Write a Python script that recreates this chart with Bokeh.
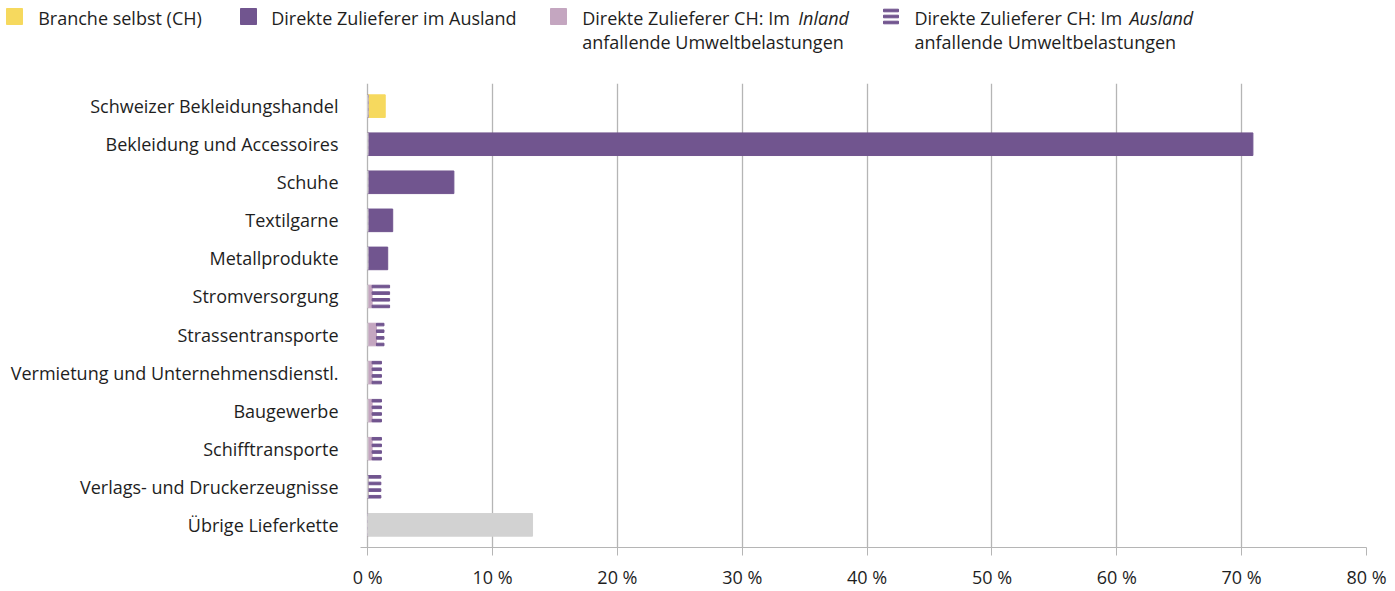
from bokeh.plotting import figure
from bokeh.models import Range1d, FactorRange, FixedTicker, ColumnDataSource
from bokeh.transform import dodge
from bokeh.layouts import column
from bokeh.embed import file_html
from bokeh.resources import INLINE
from bokeh.core.properties import value

# ---------------- data ----------------
categories = [
    "Schweizer Bekleidungshandel",
    "Bekleidung und Accessoires",
    "Schuhe",
    "Textilgarne",
    "Metallprodukte",
    "Stromversorgung",
    "Strassentransporte",
    "Vermietung und Unternehmensdienstl.",
    "Baugewerbe",
    "Schifftransporte",
    "Verlags- und Druckerzeugnisse",
    "Übrige Lieferkette",
]
branche_selbst = [1.4, 0, 0, 0, 0, 0, 0, 0, 0, 0, 0, 0]
zulieferer_ausland = [0, 70.9, 6.9, 2.0, 1.6, 0, 0, 0, 0, 0, 0, 0]
zulieferer_ch_inland = [0, 0, 0, 0, 0, 0.35, 0.7, 0.35, 0.35, 0.35, 0, 0]
zulieferer_ch_ausland = [0, 0, 0, 0, 0, 1.4, 0.6, 0.75, 0.75, 0.75, 1.05, 0]
uebrige = [0, 0, 0, 0, 0, 0, 0, 0, 0, 0, 0, 13.2]

tick_values = [0, 10, 20, 30, 40, 50, 60, 70, 80]
tick_labels = ["0 %", "10 %", "20 %", "30 %", "40 %", "50 %", "60 %", "70 %", "80 %"]

legend_labels = [
    ("Branche selbst (CH)", None, None),
    ("Direkte Zulieferer im Ausland", None, None),
    ("Direkte Zulieferer CH: Im", "Inland", "anfallende Umweltbelastungen"),
    ("Direkte Zulieferer CH: Im", "Ausland", "anfallende Umweltbelastungen"),
]

# ---------------- style ----------------
FONT = "Open Sans"
FS = "18px"
TXT = "#1e1e1e"
YELLOW = "#F6D95E"
PURPLE = "#71558F"
PINK = "#C4A6C0"
GREY = "#D2D2D2"
GRID = "#b5b5b5"

src = ColumnDataSource(dict(
    cat=categories,
    branche=branche_selbst,
    ausland=zulieferer_ausland,
    inland=zulieferer_ch_inland,
    ch_end=[a + b for a, b in zip(zulieferer_ch_inland, zulieferer_ch_ausland)],
    uebrige=uebrige,
))

p = figure(
    width=1390, height=523,
    y_range=FactorRange(factors=list(reversed(categories)), range_padding=0.095,
                        range_padding_units="absolute"),
    x_range=Range1d(-0.58, 80),
    output_backend="svg", toolbar_location=None,
    min_border_left=360, min_border_right=24, min_border_top=15, min_border_bottom=42,
)
p.frame_align = False
p.outline_line_color = None
p.ygrid.grid_line_color = None
p.xgrid.ticker = FixedTicker(ticks=tick_values)
p.xgrid.grid_line_color = GRID
p.xgrid.grid_line_width = 1.3

BH = 0.594
p.hbar(y="cat", left=0, right="branche", height=BH, color=YELLOW, source=src)
p.hbar(y="cat", left=0, right="ausland", height=BH, color=PURPLE, source=src)
p.hbar(y="cat", left=0, right="inland", height=BH, color=PINK, source=src)
for off in (-0.2615, -0.0876, 0.0876, 0.2615):
    p.hbar(y=dodge("cat", off, range=p.y_range), left="inland", right="ch_end",
           height=0.068, color=PURPLE, source=src)
p.hbar(y="cat", left=0, right="uebrige", height=BH, color=GREY, source=src)

xa = p.xaxis[0]
xa.ticker = FixedTicker(ticks=tick_values)
xa.major_label_overrides = dict(zip(tick_values, tick_labels))
xa.axis_line_color = GRID
xa.major_tick_line_color = GRID
xa.major_tick_out = 8
xa.major_tick_in = 0
xa.minor_tick_line_color = None
xa.major_label_standoff = 9
xa.major_label_text_font = FONT
xa.major_label_text_font_size = FS
xa.major_label_text_color = TXT

ya = p.yaxis[0]
ya.axis_line_color = None
ya.major_tick_line_color = None
ya.minor_tick_line_color = None
ya.major_tick_out = 0
ya.major_tick_in = 0
ya.major_label_standoff = 22
ya.major_label_text_font = FONT
ya.major_label_text_font_size = FS
ya.major_label_text_color = TXT

# ---------------- legend (own figure, pixel coordinates) ----------------
leg = figure(
    width=1390, height=68,
    x_range=Range1d(0, 1390), y_range=Range1d(68, 0),
    output_backend="svg", toolbar_location=None,
    x_axis_location=None, y_axis_location=None, min_border=0,
)
leg.frame_align = False
leg.outline_line_color = None
leg.grid.visible = False

sq_x = [14, 248, 558]
leg.rect(x=sq_x, y=[16, 16, 16], width=16, height=16,
         color=[YELLOW, PURPLE, PINK])
leg.rect(x=[890.5, 890.5, 890.5], y=[10, 16, 22], width=15, height=2.6, color=PURPLE)

text_x = [37.7, 270.7, 581.7, 914]
prefix_w = [0, 0, 216, 215]
for tx, pw, (main, ital, second) in zip(text_x, prefix_w, legend_labels):
    leg.text(x=[tx], y=[17], text=[main], text_baseline="middle",
             text_font=value(FONT), text_font_size=FS, text_color=TXT)
    if ital:
        leg.text(x=[tx + pw], y=[17], text=[ital], text_baseline="middle",
                 text_font=value(FONT), text_font_size=FS, text_font_style="italic",
                 text_color=TXT)
    if second:
        leg.text(x=[tx], y=[41], text=[second], text_baseline="middle",
                 text_font=value(FONT), text_font_size=FS, text_color=TXT)

layout = column(leg, p)
open("out.html", "w").write(file_html(layout, INLINE))
